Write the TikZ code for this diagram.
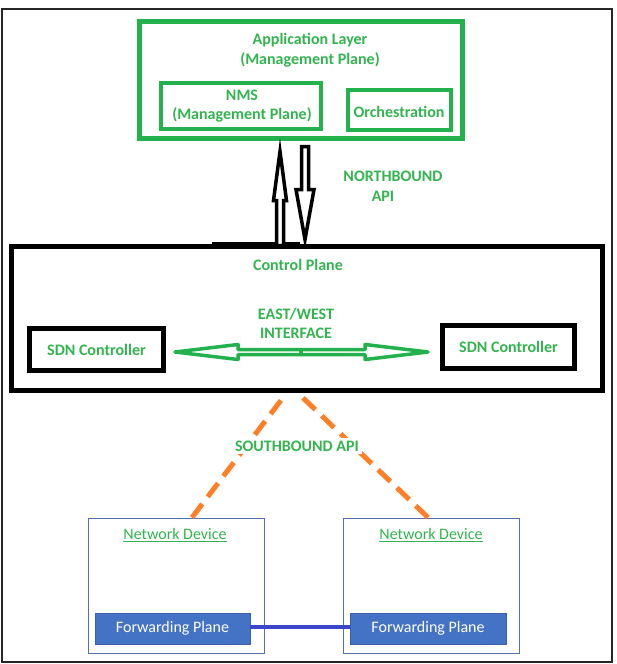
\documentclass[tikz,border=0pt]{standalone}
\usepackage{fontspec}
\setmainfont{Carlito}
\usetikzlibrary{calc}
\definecolor{appgreen}{RGB}{34,177,76}
\definecolor{txtgreen}{RGB}{52,180,80}
\definecolor{sborange}{RGB}{255,127,39}
\definecolor{fpblue}{RGB}{68,114,196}
\definecolor{ndblue}{RGB}{84,112,176}
\definecolor{linkblue}{RGB}{60,70,200}
\tikzset{
  lbl/.style={text=txtgreen, font=\bfseries\fontsize{16}{19.5}\selectfont, align=center, inner sep=0pt},
  ndlbl/.style={text=txtgreen, font=\fontsize{16}{19}\selectfont, inner sep=0pt},
  gbox/.style={draw=appgreen, line width=5pt, inner sep=0pt, rectangle},
  kbox/.style={draw=black, line width=5pt, inner sep=0pt, rectangle},
  ndbox/.style={draw=ndblue, line width=1pt, inner sep=0pt, rectangle},
  fpbox/.style={fill=fpblue, draw=fpblue!85!black, line width=0.5pt, text=white, font=\fontsize{16}{19}\selectfont, inner sep=0pt, rectangle},
  nbarrow/.style={draw=black, line width=3.5pt, fill=white, line join=miter},
  ewarrow/.style={draw=appgreen, line width=3.5pt, fill=white, line join=round},
  sbline/.style={draw=sborange, line width=5pt, dash pattern=on 17pt off 9pt},
  fplink/.style={draw=linkblue, line width=4pt},
}
\begin{document}
\begin{tikzpicture}[x=1pt,y=-1pt]
\useasboundingbox (0,0) rectangle (616,664);
\fill[white] (0,0) rectangle (616,664);
% outer frame
\draw[line width=1.8pt, black!85] (2,9) rectangle (612,662);

% application layer
\node[gbox, minimum width=323pt, minimum height=117pt] (app) at (301,80) {};
\node[lbl] (apptxt) at (310,50) {Application Layer\\(Management Plane)};
\node[gbox, line width=4.5pt, minimum width=160pt, minimum height=46pt] (nms) at (241,106) {};
\node[lbl] (nmstxt) at (242,106) {NMS\\(Management Plane)};
\node[gbox, line width=4.5pt, minimum width=103pt, minimum height=40pt] (orch) at (399.5,110) {};
\node[lbl] (orchtxt) at (399,112) {Orchestration};

% control plane
\node[kbox, minimum width=591pt, minimum height=144pt] (cp) at (307,318.5) {};
\draw[line width=3pt] (212,243.5) -- (300,243.5);
\node[lbl] (cptxt) at (298,265) {Control Plane};
\node[kbox, minimum width=134pt, minimum height=42pt] (sdnl) at (96.5,349.5) {};
\node[lbl] at (sdnl) {SDN Controller};
\node[kbox, minimum width=132pt, minimum height=43pt] (sdnr) at (508.5,347) {};
\node[lbl] at (sdnr) {SDN Controller};
\node[lbl] (ewtxt) at (296,323.5) {EAST/WEST\\INTERFACE};

% northbound arrows
\coordinate (nbup) at ($(app.south)+(-21,10.5)$);
\draw[nbarrow] (nbup) -- ++(6.5,49) -- ++(-3,0) -- ++(0,45) -- ++(-7,0) -- ++(0,-45) -- ++(-3,0) -- cycle;
\coordinate (nbdn) at ($(cp.north)+(-2,-4.5)$);
\draw[nbarrow] (nbdn) -- ++(9,-50) -- ++(-5.5,0) -- ++(0,-43) -- ++(-7,0) -- ++(0,43) -- ++(-5.5,0) -- cycle;
\node[lbl] (nbtxt1) at (393,176) {NORTHBOUND};
\node[lbl] (nbtxt2) at (383,196) {API};

% east/west arrows
\coordinate (ewl) at ($(sdnl.east)+(9,2.5)$);
\draw[ewarrow] (ewl) -- ++(63,-7.5) -- ++(0,5) -- ++(63,0) -- ++(0,5) -- ++(-63,0) -- ++(0,5) -- cycle;
\coordinate (ewr) at ($(sdnr.west)+(-12,5)$);
\draw[ewarrow] (ewr) -- ++(-63,-7.5) -- ++(0,5) -- ++(-64,0) -- ++(0,5) -- ++(64,0) -- ++(0,5) -- cycle;

% network devices
\node[ndbox, minimum width=176pt, minimum height=135pt] (ndl) at (176,585.5) {};
\node[ndbox, minimum width=176pt, minimum height=135pt] (ndr) at (431,585.5) {};
\node[ndlbl] (ndltxt) at (175,535) {\underline{Network Device}};
\node[ndlbl] (ndrtxt) at (431,535) {\underline{Network Device}};
\node[fpbox, minimum width=155pt, minimum height=31pt] (fpl) at (172.5,628.5) {Forwarding Plane};
\node[fpbox, minimum width=156pt, minimum height=31pt] (fpr) at (428,628.5) {Forwarding Plane};
\draw[fplink] ($(fpl.east)+(0,-1.5)$) -- ($(fpr.west)+(0,-1.5)$);

% southbound
\coordinate (sbl) at ($(cp.south)+(-22,2)$);
\coordinate (sbr) at ($(cp.south)+(-7,2)$);
\draw[sbline] ($(ndl.north)+(16,0)$) -- (sbl);
\draw[sbline] ($(ndr.north)+(-3,0)$) -- (sbr);
\node[lbl, fill=white, inner sep=3pt] (sbtxt) at (297,446) {SOUTHBOUND API};
\end{tikzpicture}
\end{document}
